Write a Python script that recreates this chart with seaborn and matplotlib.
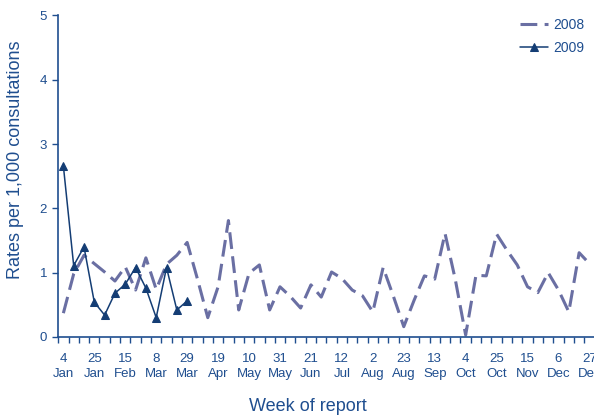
import numpy as np
import pandas as pd
import seaborn as sns
import matplotlib.pyplot as plt

# ==========================================
# data
# ==========================================
week_labels = ['4\nJan', '25\nJan', '15\nFeb', '8\nMar', '29\nMar', '19\nApr',
               '10\nMay', '31\nMay', '21\nJun', '12\nJul', '2\nAug', '23\nAug',
               '13\nSep', '4\nOct', '25\nOct', '15\nNov', '6\nDec', '27\nDec']

rate_2008 = [0.37, 0.98, 1.27, 1.14, 1.01, 0.87, 1.09, 0.73, 1.23, 0.74,
             1.13, 1.27, 1.47, 0.90, 0.30, 0.78, 1.81, 0.42, 0.99, 1.12,
             0.42, 0.78, 0.63, 0.45, 0.81, 0.62, 1.01, 0.91, 0.73, 0.64,
             0.39, 1.08, 0.63, 0.16, 0.57, 0.95, 0.90, 1.61, 0.89, 0.03,
             0.96, 0.95, 1.60, 1.35, 1.12, 0.78, 0.69, 1.00, 0.73, 0.39,
             1.31, 1.14]

rate_2009 = [2.66, 1.11, 1.40, 0.54, 0.34, 0.68, 0.82, 1.08, 0.76, 0.30,
             1.08, 0.42, 0.56]

TEXT_C = '#1f4e8f'
C2008 = '#6a6fa3'
C2009 = '#143d74'

df08 = pd.DataFrame({'week': np.arange(len(rate_2008)), 'rate': rate_2008})
df09 = pd.DataFrame({'week': np.arange(len(rate_2009)), 'rate': rate_2009})

sns.set_style('white')
plt.rcParams['font.family'] = ['Liberation Sans', 'DejaVu Sans']

fig = plt.figure(figsize=(5.94, 4.16), dpi=100)
ax = fig.add_axes([0.098, 0.19, 0.903, 0.773])

sns.lineplot(data=df08, x='week', y='rate', ax=ax, color=C2008, lw=2.2,
             label='2008')
ax.lines[-1].set_dashes((5.5, 2.4))
sns.lineplot(data=df09, x='week', y='rate', ax=ax, color=C2009, lw=1.1,
             marker='^', markersize=6, markeredgecolor=C2009, label='2009')

n = len(rate_2008)
ax.set_xlim(-0.5, n - 0.5)
ax.set_ylim(0, 5)
ax.set_yticks(range(6))

# ticks between categories, labels every 3 weeks
ax.set_xticks(np.arange(-0.5, n, 1.0))
ax.set_xticklabels([])
ax.set_xticks(np.arange(0, n, 3), minor=True)
ax.set_xticklabels(week_labels, minor=True, linespacing=1.35)
ax.tick_params(axis='x', which='major', length=4, width=1, color=TEXT_C,
               direction='out', bottom=True)
ax.tick_params(axis='x', which='minor', length=0, pad=11.5, labelsize=9.5,
               labelcolor=TEXT_C)
ax.tick_params(axis='y', length=4, width=1, color=TEXT_C, direction='out',
               left=True, labelsize=9.5, labelcolor=TEXT_C, pad=4)

for s in ['top', 'right']:
    ax.spines[s].set_visible(False)
for s in ['left', 'bottom']:
    ax.spines[s].set_color(TEXT_C)
    ax.spines[s].set_linewidth(1.2)

ax.set_ylabel('Rates per 1,000 consultations', fontsize=13, color=TEXT_C)
ax.yaxis.set_label_coords(-0.063, 0.55)
ax.set_xlabel('Week of report', fontsize=13, color=TEXT_C)
ax.xaxis.set_label_coords(0.466, -0.19)

leg = ax.legend(loc='upper right', bbox_to_anchor=(1.005, 1.03), frameon=False,
                fontsize=10, handlelength=2.0, handletextpad=0.4,
                labelspacing=0.6)
for t in leg.get_texts():
    t.set_color(TEXT_C)

fig.savefig('out.png', dpi=100)
